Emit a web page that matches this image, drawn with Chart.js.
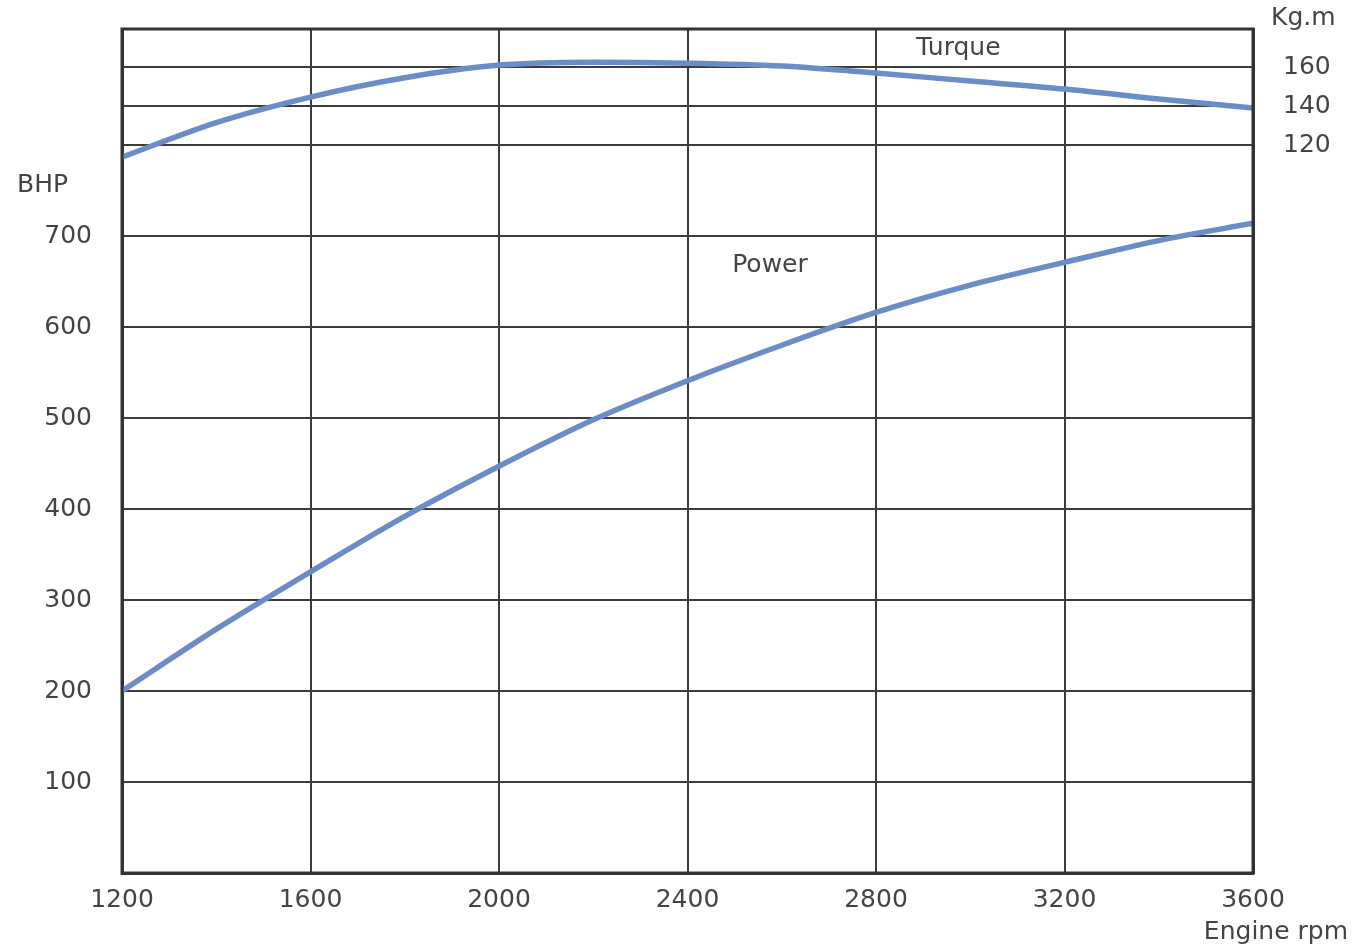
<!DOCTYPE html>
<html>
<head>
<meta charset="utf-8">
<title>Power and torque vs engine rpm</title>
<script src="https://cdn.jsdelivr.net/npm/chart.js@4.4.1/dist/chart.umd.min.js"></script>
<style>
  html, body { margin: 0; padding: 0; background: #fff; }
  #wrap { width: 1371px; height: 951px; position: relative; }
</style>
</head>
<body>
<div id="wrap"><canvas id="chart"></canvas></div>
<script>
  const rpm = [1200, 1400, 1600, 1800, 2000, 2200, 2400, 2600, 2800, 3000, 3200, 3400, 3600];
  const powerBhp = [200, 268, 331, 392, 447, 498, 541, 580, 616, 646, 671, 695, 714];
  const torqueKgm = [113.8, 131.5, 144.6, 154.5, 161, 162.5, 162, 160.5, 156.9, 152.8, 148.7, 143.6, 139];
  const torqueTicks = [120, 140, 160];

  const LINE_COLOR = '#6a8dc8';
  const GRID_COLOR = '#3c3c3c';
  const TEXT_COLOR = '#444';
  const FONT = '"DejaVu Sans", Verdana, sans-serif';
  const TICK_SIZE = 25;

  // fixed box sizes so the plot area lands where the original frame is
  function fixVertical(width) {
    return (s) => {
      s.width = width;
      s.paddingTop = 0;
      s.paddingBottom = 0;
    };
  }

  // free text labels and the top edge of the frame
  const annotations = {
    id: 'annotations',
    afterDraw(chart) {
      const { ctx, chartArea, scales } = chart;
      const x = scales.x, yL = scales.y, yR = scales.y2;
      ctx.save();
      ctx.strokeStyle = '#333';
      ctx.lineWidth = 3;
      ctx.strokeRect(chartArea.left, chartArea.top, chartArea.right - chartArea.left, chartArea.bottom - chartArea.top);

      ctx.fillStyle = TEXT_COLOR;
      ctx.font = TICK_SIZE + 'px ' + FONT;
      ctx.textBaseline = 'middle';

      ctx.textAlign = 'center';
      ctx.fillText('Turque', x.getPixelForValue(2975), yR.getPixelForValue(169.7));
      ctx.fillText('Power', x.getPixelForValue(2575), yL.getPixelForValue(668));

      ctx.textAlign = 'left';
      ctx.fillText('BHP', 17, yL.getPixelForValue(756));
      ctx.fillText('Kg.m', chartArea.right + 18, chartArea.top - 11);

      ctx.textAlign = 'right';
      ctx.fillText('Engine rpm', chartArea.right + 95, chartArea.bottom + 59);
      ctx.restore();
    },
  };

  new Chart(document.getElementById('chart'), {
    type: 'line',
    data: {
      datasets: [
        {
          label: 'Turque',
          data: rpm.map((r, i) => ({ x: r, y: torqueKgm[i] })),
          yAxisID: 'y2',
          borderColor: LINE_COLOR,
          borderWidth: 5.5,
          pointRadius: 0,
          cubicInterpolationMode: 'monotone',
          fill: false,
        },
        {
          label: 'Power',
          data: rpm.map((r, i) => ({ x: r, y: powerBhp[i] })),
          yAxisID: 'y',
          borderColor: LINE_COLOR,
          borderWidth: 5.5,
          pointRadius: 0,
          cubicInterpolationMode: 'monotone',
          fill: false,
        },
      ],
    },
    options: {
      responsive: true,
      maintainAspectRatio: false,
      animation: false,
      layout: { padding: { top: 29, left: 0, right: 0, bottom: 0 } },
      plugins: {
        legend: { display: false },
        tooltip: { enabled: false },
      },
      scales: {
        x: {
          type: 'linear',
          min: 1200,
          max: 3600,
          afterFit: (s) => {
            s.height = 78;
            s.paddingLeft = 0;
            s.paddingRight = 0;
          },
          ticks: {
            stepSize: 400,
            color: TEXT_COLOR,
            padding: 12,
            font: { family: FONT, size: TICK_SIZE },
            callback: (v) => String(v),
          },
          grid: { color: GRID_COLOR, lineWidth: 2, drawTicks: false },
          border: { color: '#333', width: 3 },
        },
        y: {
          position: 'left',
          min: 0,
          max: 927.5,
          afterFit: fixVertical(122),
          ticks: {
            stepSize: 100,
            includeBounds: false,
            color: TEXT_COLOR,
            padding: 30,
            font: { family: FONT, size: TICK_SIZE },
            callback: (v) => (v >= 100 && v <= 700 ? String(v) : ''),
          },
          grid: {
            lineWidth: 2,
            drawTicks: false,
            color: (c) => (c.tick && c.tick.value > 0 && c.tick.value <= 800 ? GRID_COLOR : 'rgba(0,0,0,0)'),
          },
          border: { color: '#333', width: 3 },
        },
        y2: {
          position: 'right',
          min: -253.3,
          max: 179.5,
          afterFit: fixVertical(118),
          afterBuildTicks: (s) => { s.ticks = torqueTicks.map((v) => ({ value: v })); },
          ticks: {
            color: TEXT_COLOR,
            padding: 30,
            font: { family: FONT, size: TICK_SIZE },
          },
          grid: { color: GRID_COLOR, lineWidth: 2, drawTicks: false },
          border: { color: '#333', width: 3 },
        },
      },
    },
    plugins: [annotations],
  });
</script>
</body>
</html>
